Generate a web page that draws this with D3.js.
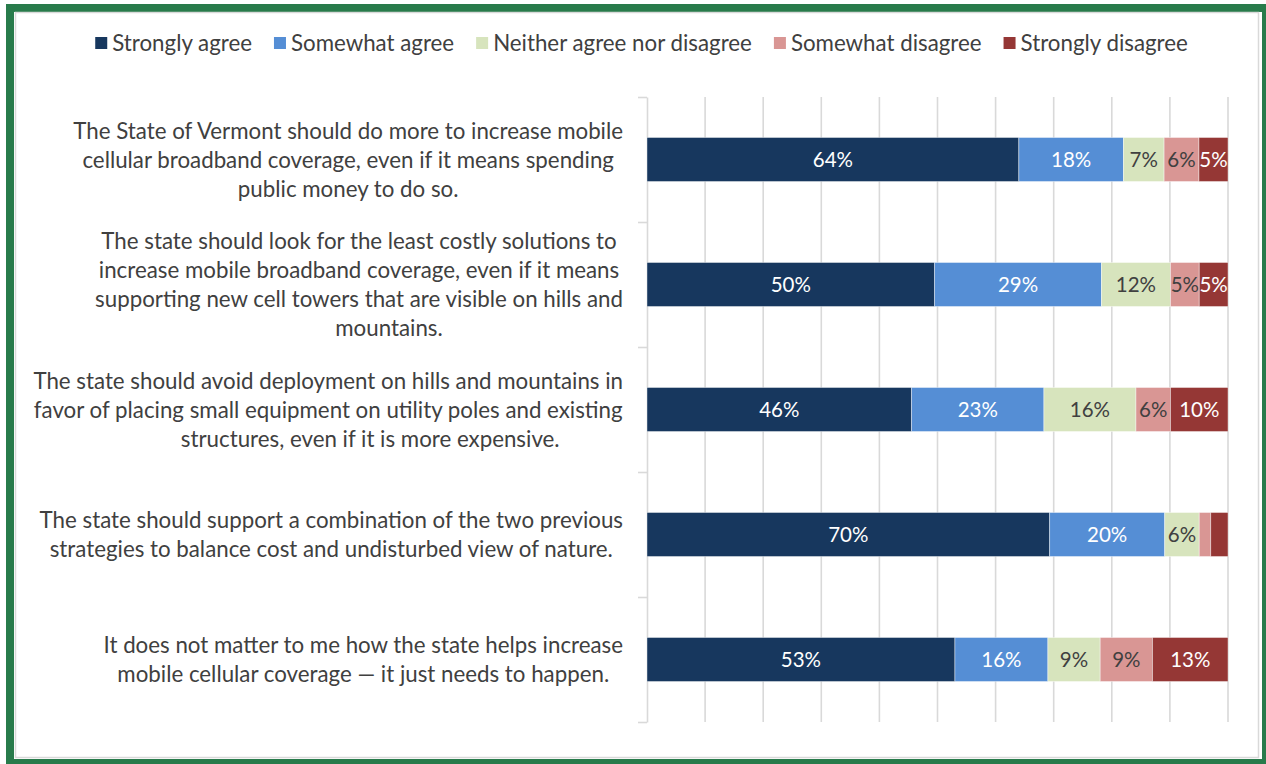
<!DOCTYPE html>
<html>
<head>
<meta charset="utf-8">
<script src="https://cdn.jsdelivr.net/npm/d3@7"></script>
<style>
  html, body { margin: 0; padding: 0; background: #ffffff; }
  svg { display: block; }
  text { font-family: Lato, "Open Sans", sans-serif; }
</style>
</head>
<body>
<svg id="chart" width="1266" height="764"></svg>
<script>
// Survey statements (each entry is one line of the wrapped label)
const statements = [
  ["The State of Vermont should do more to increase mobile",
   "cellular broadband coverage, even if it means spending",
   "public money to do so."],
  ["The state should look for the least costly solutions to",
   "increase mobile broadband coverage, even if it means",
   "supporting new cell towers that are visible on hills and",
   "mountains."],
  ["The state should avoid deployment on hills and mountains in",
   "favor of placing small equipment on utility poles and existing",
   "structures, even if it is more expensive."],
  ["The state should support a combination of the two previous",
   "strategies to balance cost and undisturbed view of nature."],
  ["It does not matter to me how the state helps increase",
   "mobile cellular coverage \u2014 it just needs to happen."]
];

const responses = ["Strongly agree", "Somewhat agree", "Neither agree nor disagree",
                   "Somewhat disagree", "Strongly disagree"];

// Percent of respondents per statement, one array per response
const stronglyAgree    = [64, 50, 46, 70, 53];
const somewhatAgree    = [18, 29, 23, 20, 16];
const neither          = [7, 12, 16, 6, 9];
const somewhatDisagree = [6, 5, 6, 2, 9];
const stronglyDisagree = [5, 5, 10, 3, 13];

// Value labels shown inside the segments ("" = no label)
const shownLabels = [
  ["64%", "18%", "7%", "6%", "5%"],
  ["50%", "29%", "12%", "5%", "5%"],
  ["46%", "23%", "16%", "6%", "10%"],
  ["70%", "20%", "6%", "", ""],
  ["53%", "16%", "9%", "9%", "13%"]
];

const gridTicks = d3.range(0, 1.0001, 0.1);

const colors = ["#17375e", "#558ed5", "#d7e4bd", "#d99694", "#953735"];
const labelColors = ["#ffffff", "#ffffff", "#404040", "#404040", "#ffffff"];

const seriesValues = [stronglyAgree, somewhatAgree, neither, somewhatDisagree, stronglyDisagree];

// Build rows normalised to 100% (100% stacked bars)
const rows = statements.map((s, i) => {
  const vals = seriesValues.map(a => a[i]);
  const total = d3.sum(vals);
  const row = { id: i };
  responses.forEach((r, k) => { row[r] = vals[k] / total; });
  return row;
});
const stacked = d3.stack().keys(responses)(rows);

const svg = d3.select("#chart");

// Outer frame
svg.append("rect").attr("x", 0).attr("y", 0).attr("width", 1266).attr("height", 764).attr("fill", "#ffffff");
svg.append("rect")
  .attr("x", 10).attr("y", 8).attr("width", 1256).attr("height", 755)
  .attr("fill", "none").attr("stroke", "#287b4b").attr("stroke-width", 8);
svg.append("rect")
  .attr("x", 15.5).attr("y", 12.5).attr("width", 1243).attr("height", 745)
  .attr("fill", "none").attr("stroke", "#d9d9d9").attr("stroke-width", 1.5);

const x = d3.scaleLinear().domain([0, 1]).range([647, 1228]);
const y = d3.scaleBand()
  .domain(d3.range(statements.length))
  .range([97, 722])
  .paddingInner(0.648)
  .paddingOuter(0.324);

const plotTop = y.range()[0], plotBottom = y.range()[1];

// Vertical gridlines
svg.append("g").selectAll("line")
  .data(gridTicks.slice(1))
  .join("line")
  .attr("x1", d => x(d)).attr("x2", d => x(d))
  .attr("y1", plotTop).attr("y2", plotBottom)
  .attr("stroke", "#d9d9d9").attr("stroke-width", 1.6);

// Category axis with tick marks between categories
const yAxis = d3.axisLeft(d3.scaleLinear().domain([0, statements.length]).range([plotTop, plotBottom]))
  .ticks(statements.length)
  .tickSize(9)
  .tickSizeOuter(0)
  .tickFormat("");
const axisG = svg.append("g").attr("transform", `translate(${x(0)},0)`).call(yAxis);
axisG.select(".domain").attr("stroke", "#d9d9d9").attr("stroke-width", 1.6);
axisG.selectAll(".tick line").attr("stroke", "#d9d9d9").attr("stroke-width", 1.6);

// Bars
const layers = svg.append("g").selectAll("g")
  .data(stacked)
  .join("g")
  .attr("fill", (d, i) => colors[i]);

layers.selectAll("rect")
  .data(d => d)
  .join("rect")
  .attr("x", d => x(d[0]))
  .attr("width", d => x(d[1]) - x(d[0]))
  .attr("y", (d, i) => y(i))
  .attr("height", y.bandwidth())
  .attr("stroke", "#ffffff")
  .attr("stroke-opacity", 0.5)
  .attr("stroke-width", 0.8);

// Segment value labels
layers.each(function(layer, k) {
  d3.select(this).selectAll("text")
    .data(layer)
    .join("text")
    .attr("x", d => (x(d[0]) + x(d[1])) / 2)
    .attr("y", (d, i) => y(i) + y.bandwidth() / 2)
    .attr("dy", "0.36em")
    .attr("text-anchor", "middle")
    .attr("font-size", 20.5)
    .attr("fill", labelColors[k])
    .text((d, i) => shownLabels[i][k]);
});

// Statement labels: centred block whose widest line ends near the axis
const labelFont = 22.3;
const lineGap = 29;
const labelRight = 623;
const lastLineShift = [0, 30, 42, 0, 0];
const labelG = svg.append("g").attr("fill", "#404040").attr("font-size", labelFont);

statements.forEach((lines, i) => {
  const cy = y(i) + y.bandwidth() / 2;
  const g = labelG.append("g");
  const texts = lines.map((ln, j) => g.append("text")
    .attr("y", cy + (j - (lines.length - 1) / 2) * lineGap)
    .attr("dy", "0.36em")
    .attr("text-anchor", "middle")
    .text(ln));
  const widest = d3.max(texts, t => t.node().getComputedTextLength());
  const cx = labelRight - widest / 2;
  texts.forEach((t, j) => t.attr("x", cx + (j === lines.length - 1 ? lastLineShift[i] : 0)));
});

// Legend, centred above the plot
const legend = svg.append("g").attr("font-size", 22.3).attr("fill", "#404040");
let lx = 0;
responses.forEach((r, i) => {
  const g = legend.append("g");
  g.append("rect").attr("x", 0).attr("y", -6).attr("width", 12).attr("height", 12).attr("fill", colors[i]);
  const t = g.append("text").attr("x", 17).attr("dy", "0.36em").text(r);
  const w = 17 + t.node().getComputedTextLength();
  g.attr("transform", `translate(${lx},0)`);
  lx += w + 22;
});
const legendWidth = lx - 22;
legend.attr("transform", `translate(${641.5 - legendWidth / 2},43)`);
</script>
</body>
</html>
